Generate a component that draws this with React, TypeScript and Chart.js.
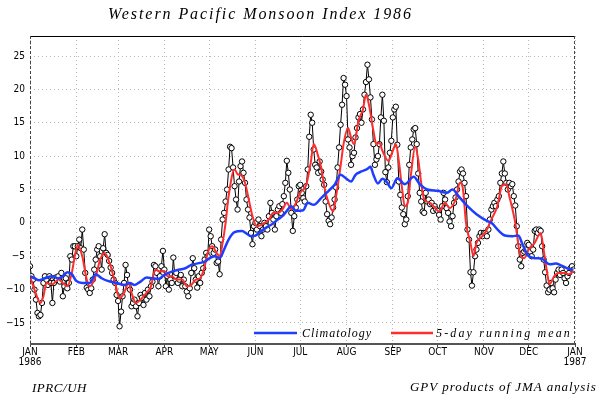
import React, { useEffect, useRef } from "react";
import { Chart, registerables } from "chart.js";

Chart.register(...registerables);

// ---------- DATA ----------
const title = "Western Pacific Monsoon Index 1986";
const monthStarts = [0, 31, 59, 90, 120, 151, 181, 212, 243, 273, 304, 334, 365];
const monthLabels = ["JAN", "FEB", "MAR", "APR", "MAY", "JUN", "JUL", "AUG", "SEP", "OCT", "NOV", "DEC", "JAN"];
const yearLabels: Record<number, string> = { 0: "1986", 12: "1987" };
const yTicks = [-15, -10, -5, 0, 5, 10, 15, 20, 25];

// daily index values, month by month
const jan = [-6.5, -8, -8.5, -10, -11.5, -13.5, -14, -13.8, -12, -9, -8, -8.5, -9.3, -8, -9, -12, -9, -8.2, -8.5, -8, -8.8, -7.5, -11, -9.5, -8.3, -9.8, -9, -5, -5.5, -3.5, -3.5];
const feb = [-5, -3.5, -2.5, -3.8, -1, -4, -7.5, -9.7, -10, -10.5, -9.8, -8.5, -7, -5.5, -4, -3.5, -5, -7, -3.8, -1.7, -4.5, -4.8, -5.7, -6.7, -7.5, -8.5, -9, -10.8];
const mar = [-11.7, -15.5, -13.3, -11, -9, -6.3, -7.8, -9.5, -10, -12.5, -12, -11.5, -12.5, -14, -12, -10.8, -11.2, -12.3, -10.5, -11.5, -10, -11, -9.5, -8.8, -6.3, -6.5, -7.5, -9.5, -8, -6.5, -4.2];
const apr = [-7, -9.5, -8, -10, -8.5, -9, -5.2, -8, -7.5, -9, -8.5, -7.8, -9.5, -8.5, -9.5, -10.3, -11, -9.8, -7.5, -5.3, -6.8, -8.5, -9.7, -8, -9, -7.5, -6.8, -5.5, -4.5, -5];
const may = [-1, -2, -3.5, -4.5, -4, -6, -5.8, -7.7, -2.5, 0.5, 1.5, 3.2, 5, 8, 11.4, 11.2, 8.3, 5.5, 3.5, 2, 6.2, 8.5, 9.2, 7.5, 6, 3.5, 2, 0.8, -1.5, -3.2, -0.5];
const jun = [0, -1, 0.5, -0.5, -2, -1, 0, -0.5, -1, 1, 3, 1.5, 0.5, -1, 1, 2, 2.5, 1.5, 2.8, 4, 6, 9.3, 7.5, 5, 1.5, -1.2, 1, 2.3, 3.5, 5.5];
const jul = [5.7, 4.5, 3.7, 3.2, 5.5, 8, 12.9, 16.2, 15, 11, 8.7, 8.3, 7.5, 9.2, 7.7, 6.5, 5.7, 3.2, 1.3, 0.3, -0.2, 0.8, 2.3, 3.5, 5.3, 8.3, 11.3, 14.7, 17.7, 21.7, 20.7];
const aug = [19, 12.5, 11.3, 8.7, 10, 10.5, 12.8, 14.2, 15.8, 16.3, 15, 17, 19.2, 21.1, 23.7, 21.5, 18.8, 15.5, 11.8, 8.7, 9.5, 10, 11.8, 15.8, 19.2, 15.3, 7.6, 6.1, 8.3, 10.5, 12.3];
const sep = [15.8, 17, 17.4, 11.7, 6.2, 4.2, 2.3, 1.3, -0.2, 0.5, 4, 8.7, 11.3, 12.5, 14, 14.2, 11.8, 7.4, 4.5, 3.2, 1.7, 1.5, 4.5, 3.2, 3.5, 2.8, 3, 1.8, 2.5, 2];
const oct = [1.8, 1.2, 0.5, 2.5, 4.5, 3.5, 2.2, 1.5, 0.2, -0.5, 1, 3, 3.8, 5, 6.2, 7.7, 8, 7.4, 6, 4, -1, -2.5, -7.4, -9.4, -7.4, -5, -4, -3, -2, -1.5, -2];
const nov = [-1.5, -1.5, -2, -1, 0.5, 2, 2.5, 3, 2.5, 3.5, 4, 6, 7.4, 9.2, 7.4, 6, 5, 6, 5.5, 5.8, 4, 2.6, -0.5, -3.5, -5.5, -6.5, -4.5, -4.3, -4, -3];
const dec = [-3.3, -4.3, -5, -4, -1.2, -1, -1.5, -1, -1.2, -3.5, -5.5, -7.4, -9.4, -10.4, -10, -9, -9.8, -10.4, -8.5, -7.5, -7, -7.8, -7, -7.5, -8.3, -9, -8, -7.5, -6.8, -6.5, -7];

// 5-day running mean, read at selected days
const meanDays = [0, 3, 7, 9, 11, 15, 19, 22, 25, 28, 30, 32, 35, 38, 40, 44, 47, 50, 54, 57, 60, 63, 66, 68, 71, 74, 78, 81, 84, 87, 90, 92, 95, 98, 102, 105, 108, 111, 114, 117, 119, 122, 125, 127, 129, 131, 133, 137, 139, 142, 144, 147, 149, 152, 155, 157, 160, 163, 166, 169, 172, 175, 177, 181, 185, 188, 190, 193, 195, 197, 199, 203, 205, 208, 210, 213, 215, 217, 220, 223, 225, 227, 230, 232, 234, 236, 240, 243, 245, 247, 249, 251, 253, 255, 258, 260, 262, 264, 268, 271, 274, 278, 281, 285, 288, 290, 292, 295, 297, 299, 303, 306, 309, 313, 316, 319, 321, 325, 328, 331, 334, 338, 342, 344, 346, 348, 351, 354, 358, 361, 364];
const meanValues = [-8, -10, -12, -11, -9, -9.2, -8.5, -9, -9.5, -7.5, -5, -3.3, -5, -8.5, -9.5, -8, -5.5, -4.5, -6.5, -9, -11.3, -10.5, -9, -10.5, -12, -11.5, -10.5, -9.5, -7, -7.3, -7.2, -8, -8, -8.5, -8.5, -9.5, -9.3, -8.5, -8.3, -6.5, -4.5, -3.5, -4.5, -5, -3, 0, 4, 8, 7.3, 7, 6, 3, 1, -0.5, -0.3, 0, 0.5, 1.5, 1.5, 2, 3, 2, 2.5, 4.5, 5.7, 9, 11.8, 10, 8.3, 5.5, 3.7, 1.7, 4, 8.5, 11.8, 14.2, 12.8, 11.8, 15.3, 17, 19.2, 17.7, 13.8, 11.8, 12, 10.8, 9.3, 10.8, 11.8, 9.3, 5.5, 2.5, 3, 7, 11.4, 9.5, 6, 3.5, 3, 2.3, 1.7, 3, 2.2, 3.5, 6, 5, 0, -3, -5, -3, -2, -1, 0.5, 2.5, 5.5, 5.8, 4, 0, -4.5, -5.3, -4, -3, -1.5, -4, -7, -9.2, -8, -7.5, -7.5, -7.7, -7.2];

// climatology, read at selected days
const climDays = [0, 3, 6, 10, 15, 19, 22, 25, 28, 31, 35, 40, 44, 48, 52, 58, 63, 67, 70, 74, 78, 82, 86, 90, 95, 100, 104, 108, 114, 117, 121, 124, 127, 130, 133, 137, 142, 145, 148, 151, 155, 159, 162, 166, 169, 172, 175, 178, 183, 186, 190, 195, 200, 204, 208, 212, 215, 218, 222, 226, 228, 230, 233, 236, 239, 242, 246, 251, 257, 261, 266, 273, 279, 283, 287, 293, 299, 306, 309, 314, 318, 323, 327, 330, 334, 339, 343, 348, 352, 356, 361, 364];
const climValues = [-8, -8.3, -8.6, -8.3, -8, -8.3, -8, -7.4, -7.7, -8.7, -9, -9, -7.7, -8.3, -8.7, -9, -9.3, -9, -9.3, -8.8, -8.2, -8.3, -8.4, -7.8, -7.3, -7, -6.8, -6.3, -6, -5.8, -5.2, -5, -5.3, -4, -2.5, -1.4, -1.2, -1.6, -2, -1.9, -1.2, -0.6, -0.2, 0.5, 1, 1.8, 2.5, 1.8, 1.9, 3, 2.7, 3.7, 4.8, 5.7, 7.2, 6.6, 6.2, 7.2, 7.7, 8.1, 8.4, 7.2, 5.9, 6.6, 6.1, 5.2, 6.7, 5.8, 6.9, 5.8, 5, 4.8, 4.5, 5, 4, 2.5, 1.3, 0.3, 0, -1.2, -1.9, -2, -1.9, -3.3, -5, -5.3, -5.4, -6.2, -6.1, -6.4, -6.9, -7];

const legendClim = "Climatology";
const legendMean = "5-day running mean";
const footLeft = "IPRC/UH";
const footRight = "GPV products of JMA analysis";

// ---------- LAYOUT ----------
const W = 605;
const H = 403;
const PLOT_LEFT = 30;
const PLOT_RIGHT = 575;
const PLOT_TOP = 36;
const PLOT_BOTTOM = 343;

const SERIF = "'Liberation Serif', 'DejaVu Serif', serif";
const NARROW = "'Liberation Sans Narrow', 'DejaVu Sans Condensed', 'Liberation Sans', sans-serif";

function fitText(ctx: CanvasRenderingContext2D, text: string, x: number, y: number, width: number, font: string) {
  ctx.save();
  ctx.font = font;
  (ctx as any).letterSpacing = "0px";
  const w0 = ctx.measureText(text).width;
  const ls = (width - w0) / text.length;
  (ctx as any).letterSpacing = ls.toFixed(2) + "px";
  ctx.fillStyle = "#000";
  ctx.textBaseline = "alphabetic";
  ctx.textAlign = "left";
  ctx.fillText(text, x, y);
  ctx.restore();
}

const decorPlugin = {
  id: "decor",
  afterDraw(chart: any) {
    const ctx: CanvasRenderingContext2D = chart.ctx;
    const a = chart.chartArea;
    ctx.save();
    // frame
    ctx.strokeStyle = "#000";
    ctx.lineWidth = 1;
    ctx.beginPath();
    ctx.moveTo(a.left, a.top + 0.5);
    ctx.lineTo(a.right, a.top + 0.5);
    ctx.stroke();
    ctx.setLineDash([3, 2]);
    ctx.strokeStyle = "#444";
    ctx.beginPath();
    ctx.moveTo(a.left + 0.5, a.top);
    ctx.lineTo(a.left + 0.5, a.bottom);
    ctx.moveTo(a.right - 0.5, a.top);
    ctx.lineTo(a.right - 0.5, a.bottom);
    ctx.stroke();
    ctx.setLineDash([]);
    ctx.strokeStyle = "#555";
    ctx.lineWidth = 2;
    ctx.beginPath();
    ctx.moveTo(a.left, a.bottom + 1);
    ctx.lineTo(a.right, a.bottom + 1);
    ctx.stroke();

    // legend inside plot
    const ly = a.bottom - 10;
    ctx.lineWidth = 2.5;
    ctx.strokeStyle = "#1f3dff";
    ctx.beginPath();
    ctx.moveTo(254, ly);
    ctx.lineTo(297, ly);
    ctx.stroke();
    ctx.strokeStyle = "#ff2d2d";
    ctx.beginPath();
    ctx.moveTo(391, ly);
    ctx.lineTo(433, ly);
    ctx.stroke();
    ctx.restore();

    fitText(ctx, legendClim, 302, ly + 4, 70, "italic 12px " + SERIF);
    fitText(ctx, legendMean, 436, ly + 4, 136, "italic 12px " + SERIF);

    // title and footers
    fitText(ctx, title, 108, 19, 305, "italic 16px " + SERIF);
    fitText(ctx, footLeft, 32, 392, 55, "italic 13px " + SERIF);
    fitText(ctx, footRight, 410, 391, 187, "italic 13px " + SERIF);
  },
};

export default function App() {
  const ref = useRef<HTMLCanvasElement | null>(null);

  useEffect(() => {
    if (!ref.current) return;
    const daily = [...jan, ...feb, ...mar, ...apr, ...may, ...jun, ...jul, ...aug, ...sep, ...oct, ...nov, ...dec];
    const dailyPts = daily.map((v, i) => ({ x: i, y: v }));
    const meanPts = meanDays.map((d, i) => ({ x: d, y: meanValues[i] }));
    const climPts = climDays.map((d, i) => ({ x: d, y: climValues[i] }));

    const chart = new Chart(ref.current, {
      type: "line",
      data: {
        datasets: [
          {
            label: legendClim,
            data: climPts,
            borderColor: "#1f3dff",
            borderWidth: 2.5,
            pointRadius: 0,
            cubicInterpolationMode: "monotone",
            order: 0,
          },
          {
            label: legendMean,
            data: meanPts,
            borderColor: "#ff2d2d",
            borderWidth: 2,
            pointRadius: 0,
            cubicInterpolationMode: "monotone",
            order: 1,
          },
          {
            label: "daily",
            data: dailyPts,
            borderColor: "#000",
            borderWidth: 1,
            pointRadius: 2.7,
            pointBorderWidth: 1,
            pointBackgroundColor: "#fff",
            pointBorderColor: "#000",
            tension: 0,
            order: 2,
          },
        ],
      },
      options: {
        animation: false,
        responsive: false,
        events: [],
        layout: { padding: { left: 0, right: W - PLOT_RIGHT, top: PLOT_TOP, bottom: 0 } },
        plugins: { legend: { display: false }, title: { display: false }, tooltip: { enabled: false } },
        scales: {
          x: {
            type: "linear",
            min: 0,
            max: 365,
            afterBuildTicks: (s: any) => {
              s.ticks = monthStarts.map((v) => ({ value: v }));
            },
            afterFit: (s: any) => {
              s.height = H - PLOT_BOTTOM;
            },
            ticks: {
              autoSkip: false,
              maxRotation: 0,
              padding: 0,
              color: "#000",
              font: { family: NARROW, size: 10, lineHeight: 1.0 },
              callback: (_v: any, i: number) => (yearLabels[i] ? [monthLabels[i], yearLabels[i]] : monthLabels[i]),
            },
            grid: { color: "#b8b8b8", lineWidth: 1, drawTicks: true, tickLength: 4, tickColor: "#444" },
            border: { display: false, dash: [1, 3] },
          },
          y: {
            min: -18,
            max: 28,
            afterBuildTicks: (s: any) => {
              s.ticks = yTicks.map((v) => ({ value: v }));
            },
            afterFit: (s: any) => {
              s.width = PLOT_LEFT;
            },
            ticks: {
              padding: 5,
              color: "#000",
              font: { family: NARROW, size: 10 },
              callback: (v: any) => String(v).replace("-", "\u2212"),
            },
            grid: { color: "#b8b8b8", lineWidth: 1, drawTicks: false },
            border: { display: false, dash: [1, 3] },
          },
        },
      },
      plugins: [decorPlugin],
    } as any);
    return () => chart.destroy();
  }, []);

  return (
    <div style={{ position: "absolute", left: 0, top: 0, width: W, height: H, background: "#fff" }}>
      <canvas ref={ref} width={W} height={H} style={{ width: W, height: H, display: "block" }} />
    </div>
  );
}
